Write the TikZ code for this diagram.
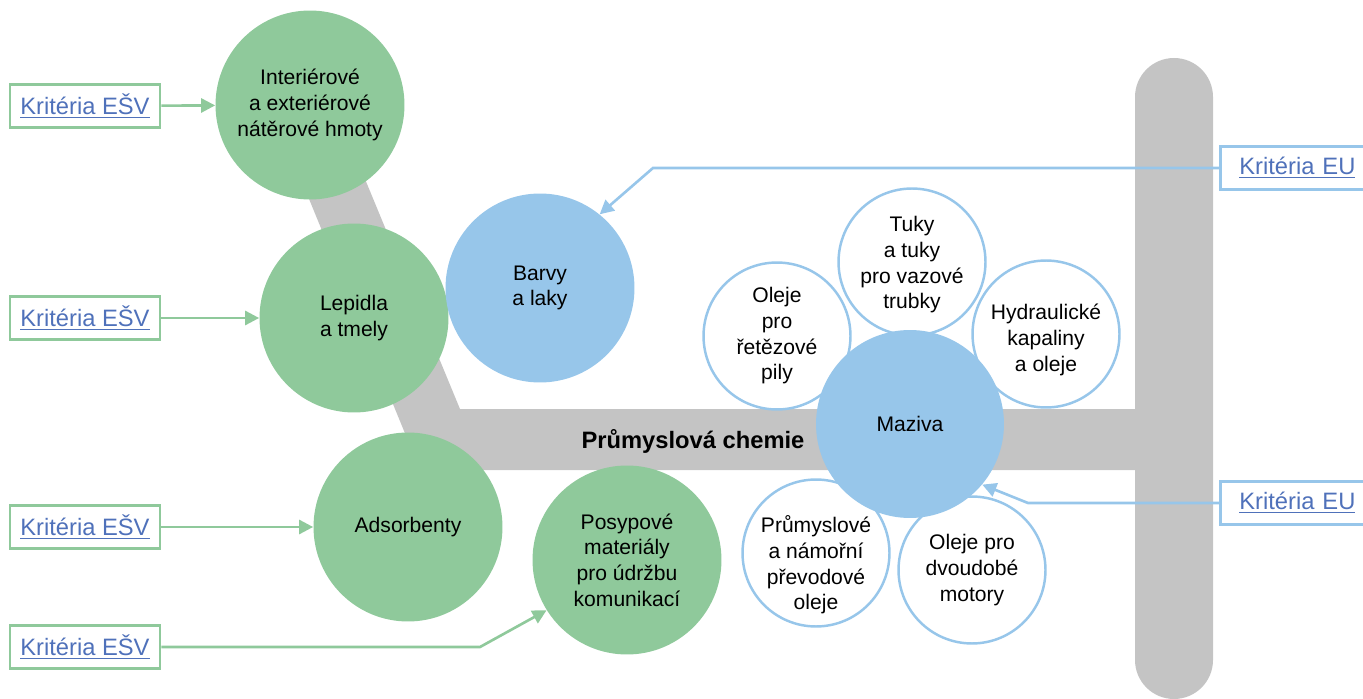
\documentclass[tikz,border=0pt]{standalone}
\usepackage{fontspec}
\setmainfont{Liberation Sans}
\usetikzlibrary{arrows.meta}
\definecolor{esvgreen}{RGB}{143,201,155}
\definecolor{eublue}{RGB}{151,198,234}
\definecolor{bargray}{RGB}{196,196,196}
\definecolor{linkblue}{RGB}{79,113,186}
\tikzset{
  circletext/.style={font=\fontsize{12}{14.6}\selectfont, align=center},
  bigcircle/.style={circle, minimum size=3.78cm, inner sep=0pt, circletext},
  smallcircle/.style={circle, draw=eublue, line width=1.4pt, fill=white,
    minimum size=2.94cm, inner sep=-4pt, circletext},
  critbox/.style={draw=#1, line width=1.6pt, fill=white, minimum width=3cm,
    minimum height=0.86cm, text=linkblue, font=\fontsize{13.5}{16}\selectfont},
  eubox/.style={critbox=eublue, anchor=west, text width=2.6cm, align=left,
    inner xsep=0.38cm},
  critarrow/.style={draw=#1, line width=1.5pt, -{Triangle[length=8pt,width=8pt]}},
}
\newcommand{\crit}[1]{\underline{#1}}
\begin{document}
\begin{tikzpicture}[x=0.02cm, y=-0.02cm]
  \useasboundingbox (0,0) rectangle (1363,699);

  \fill [bargray] (289,150) -- (353,150) -- (460,409) -- (1140,409)
    -- (1140,470) -- (420,470) -- cycle;
  \fill [bargray, rounded corners=0.78cm] (1135,58) rectangle (1213,699);
  \node [font=\bfseries\fontsize{13.5}{16}\selectfont] (chem) at (693,441) {Průmyslová chemie};

  \node [bigcircle, fill=esvgreen] (inter)  at (310,105) {Interiérové\\a exteriérové\\nátěrové hmoty};
  \node [bigcircle, fill=esvgreen] (lepid)  at (354,318) {Lepidla\\a tmely};
  \node [bigcircle, fill=esvgreen] (adsorb) at (408,527) {Adsorbenty};
  \node [bigcircle, fill=esvgreen] (posyp)  at (627,560) {Posypové\\materiály\\pro údržbu\\komunikací};
  \node [bigcircle, fill=eublue]   (barvy)  at (540,288) {Barvy\\a laky};

  \node [smallcircle, label={[circletext, yshift=-0.06cm]center:Tuky\\a tuky\\pro vazové\\trubky}] (tuky) at (912,262) {};
  \node [smallcircle] (retez)  at (777,336) {Oleje\\pro\\řetězové\\pily};
  \node [smallcircle, label={[circletext, yshift=-0.12cm]center:Hydraulické\\kapaliny\\a oleje}] (hydr) at (1046,334) {};
  \node [smallcircle, label={[circletext, yshift=-0.24cm]center:Průmyslové\\a námořní\\převodové\\oleje}] (prevod) at (816,553) {};
  \node [smallcircle] (motor)  at (972,570) {Oleje pro\\dvoudobé\\motory};
  \node [bigcircle, minimum size=3.76cm, fill=eublue] (maziva) at (910,424) {Maziva};

  \node [critbox=esvgreen] (esv1) at (85,106) {\crit{Kritéria EŠV}};
  \node [critbox=esvgreen] (esv2) at (85,318) {\crit{Kritéria EŠV}};
  \node [critbox=esvgreen] (esv3) at (85,527) {\crit{Kritéria EŠV}};
  \node [critbox=esvgreen] (esv4) at (85,647) {\crit{Kritéria EŠV}};
  \node [eubox] (eu1) at (1219,168) {\crit{Kritéria EU}};
  \node [eubox] (eu2) at (1219,503) {\crit{Kritéria EU}};

  \coordinate (b4) at (480,647);
  \coordinate (bu1) at (653,168);
  \coordinate (bu2) at (1028,503);

  \draw [critarrow=esvgreen] (esv1) -- (inter);
  \draw [critarrow=esvgreen] (esv2) -- (lepid);
  \draw [critarrow=esvgreen] (esv3) -- (adsorb);
  \draw [critarrow=esvgreen] (esv4) -- (b4) -- (posyp.212);
  \draw [critarrow=eublue] (eu1) -- (bu1) -- (barvy.51);
  \draw [critarrow=eublue] (eu2) -- (bu2) -- (maziva.-40);
\end{tikzpicture}
\end{document}
